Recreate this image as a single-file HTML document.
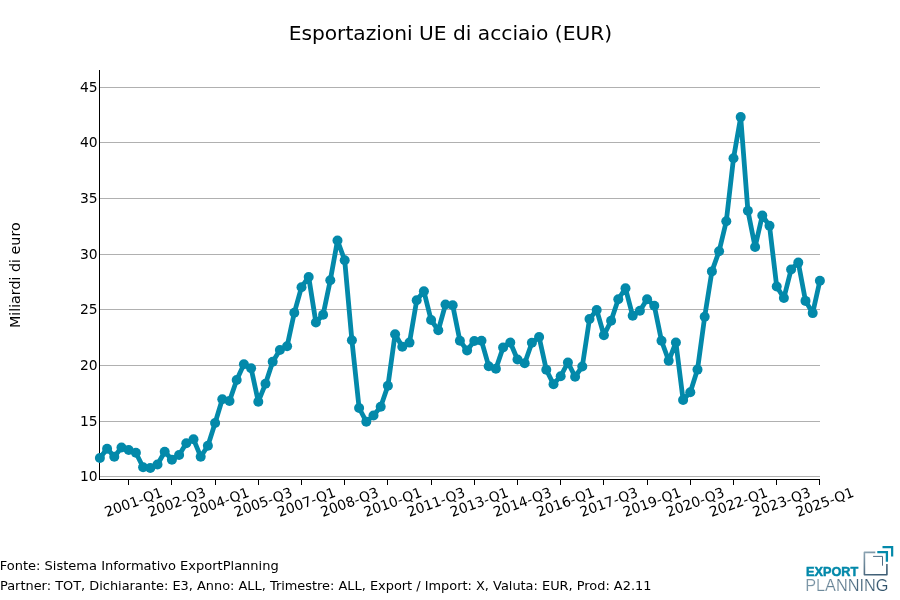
<!DOCTYPE html>
<html lang="it">
<head>
<meta charset="utf-8">
<title>Esportazioni UE di acciaio (EUR)</title>
<style>
html,body{margin:0;padding:0;background:#fff;}
body{width:900px;height:600px;overflow:hidden;}
svg{display:block;}
text{font-family:"DejaVu Sans","Liberation Sans",sans-serif;fill:#000;}
.t10{font-size:13.89px;}
.t9{font-size:12.5px;}
.logo1{font-family:"Liberation Sans",sans-serif;font-weight:bold;fill:#0389aa;}
.logo2{font-family:"Liberation Sans",sans-serif;}
</style>
</head>
<body>
<svg width="900" height="600" viewBox="0 0 900 600">
<rect width="900" height="600" fill="#fff"/>
<text x="450.4" y="39.6" text-anchor="middle" style="font-size:20.2px">Esportazioni UE di acciaio (EUR)</text>
<g stroke="#b0b0b0" stroke-width="1.1" shape-rendering="crispEdges"><line x1="100" x2="820" y1="476.5" y2="476.5"/><line x1="100" x2="820" y1="421.5" y2="421.5"/><line x1="100" x2="820" y1="365.5" y2="365.5"/><line x1="100" x2="820" y1="309.5" y2="309.5"/><line x1="100" x2="820" y1="254.5" y2="254.5"/><line x1="100" x2="820" y1="198.5" y2="198.5"/><line x1="100" x2="820" y1="142.5" y2="142.5"/><line x1="100" x2="820" y1="87.5" y2="87.5"/></g>
<g class="t10"><text x="97.7" y="481.3" text-anchor="end">10</text><text x="97.7" y="426.3" text-anchor="end">15</text><text x="97.7" y="370.3" text-anchor="end">20</text><text x="97.7" y="314.3" text-anchor="end">25</text><text x="97.7" y="259.3" text-anchor="end">30</text><text x="97.7" y="203.3" text-anchor="end">35</text><text x="97.7" y="147.3" text-anchor="end">40</text><text x="97.7" y="92.3" text-anchor="end">45</text></g>
<g stroke="#000" stroke-width="1" shape-rendering="crispEdges">
<line x1="99.5" x2="99.5" y1="70" y2="480"/>
<line x1="99" x2="820" y1="479.5" y2="479.5"/>
<line x1="128.5" x2="128.5" y1="479.5" y2="484.5"/><line x1="171.5" x2="171.5" y1="479.5" y2="484.5"/><line x1="215.5" x2="215.5" y1="479.5" y2="484.5"/><line x1="258.5" x2="258.5" y1="479.5" y2="484.5"/><line x1="301.5" x2="301.5" y1="479.5" y2="484.5"/><line x1="344.5" x2="344.5" y1="479.5" y2="484.5"/><line x1="387.5" x2="387.5" y1="479.5" y2="484.5"/><line x1="431.5" x2="431.5" y1="479.5" y2="484.5"/><line x1="474.5" x2="474.5" y1="479.5" y2="484.5"/><line x1="517.5" x2="517.5" y1="479.5" y2="484.5"/><line x1="560.5" x2="560.5" y1="479.5" y2="484.5"/><line x1="603.5" x2="603.5" y1="479.5" y2="484.5"/><line x1="647.5" x2="647.5" y1="479.5" y2="484.5"/><line x1="690.5" x2="690.5" y1="479.5" y2="484.5"/><line x1="733.5" x2="733.5" y1="479.5" y2="484.5"/><line x1="776.5" x2="776.5" y1="479.5" y2="484.5"/><line x1="819.5" x2="819.5" y1="479.5" y2="484.5"/>
</g>
<g class="t10"><text transform="translate(135.2,506.7) rotate(-20)" text-anchor="middle">2001-Q1</text><text transform="translate(178.4,506.7) rotate(-20)" text-anchor="middle">2002-Q3</text><text transform="translate(221.6,506.7) rotate(-20)" text-anchor="middle">2004-Q1</text><text transform="translate(264.8,506.7) rotate(-20)" text-anchor="middle">2005-Q3</text><text transform="translate(308.0,506.7) rotate(-20)" text-anchor="middle">2007-Q1</text><text transform="translate(351.2,506.7) rotate(-20)" text-anchor="middle">2008-Q3</text><text transform="translate(394.4,506.7) rotate(-20)" text-anchor="middle">2010-Q1</text><text transform="translate(437.6,506.7) rotate(-20)" text-anchor="middle">2011-Q3</text><text transform="translate(480.8,506.7) rotate(-20)" text-anchor="middle">2013-Q1</text><text transform="translate(524.0,506.7) rotate(-20)" text-anchor="middle">2014-Q3</text><text transform="translate(567.2,506.7) rotate(-20)" text-anchor="middle">2016-Q1</text><text transform="translate(610.4,506.7) rotate(-20)" text-anchor="middle">2017-Q3</text><text transform="translate(653.6,506.7) rotate(-20)" text-anchor="middle">2019-Q1</text><text transform="translate(696.8,506.7) rotate(-20)" text-anchor="middle">2020-Q3</text><text transform="translate(740.0,506.7) rotate(-20)" text-anchor="middle">2022-Q1</text><text transform="translate(783.2,506.7) rotate(-20)" text-anchor="middle">2023-Q3</text><text transform="translate(826.4,506.7) rotate(-20)" text-anchor="middle">2025-Q1</text></g>
<text transform="translate(19.8,275.2) rotate(-90)" text-anchor="middle" style="font-size:14.27px">Miliardi di euro</text>
<polyline points="99.9,458.0 107.1,448.7 114.3,456.7 121.5,447.5 128.7,450.0 135.9,452.8 143.1,467.2 150.3,468.0 157.5,464.5 164.7,451.7 171.9,459.7 179.1,455.0 186.3,443.3 193.5,439.2 200.7,456.7 207.9,445.8 215.1,423.0 222.3,399.2 229.5,401.0 236.7,380.0 243.9,364.2 251.1,368.3 258.3,401.7 265.5,383.8 272.7,361.7 279.9,350.0 287.1,346.3 294.3,312.8 301.5,287.2 308.7,277.0 315.9,322.5 323.1,314.7 330.3,280.3 337.5,240.5 344.7,260.3 351.9,340.3 359.1,408.0 366.3,421.7 373.5,415.5 380.7,406.7 387.9,385.8 395.1,334.2 402.3,346.7 409.5,342.6 416.7,300.3 423.9,291.3 431.1,320.0 438.3,330.3 445.5,304.5 452.7,305.3 459.9,340.8 467.1,350.4 474.3,341.0 481.5,340.8 488.7,366.2 495.9,368.7 503.1,347.5 510.3,342.5 517.5,359.5 524.7,363.3 531.9,342.8 539.1,337.0 546.3,369.7 553.5,384.2 560.7,376.2 567.9,362.5 575.1,376.7 582.3,366.5 589.5,319.0 596.7,310.0 603.9,335.2 611.1,320.8 618.3,299.2 625.5,288.3 632.7,315.8 639.9,310.8 647.1,299.2 654.3,305.8 661.5,340.8 668.7,360.8 675.9,342.5 683.1,400.0 690.3,392.2 697.5,369.6 704.7,316.7 711.9,271.4 719.1,251.2 726.3,221.3 733.5,158.3 740.7,117.1 747.9,210.8 755.1,247.0 762.3,215.5 769.5,225.8 776.7,286.5 783.9,298.0 791.1,269.5 798.3,262.6 805.5,300.9 812.7,313.1 819.9,280.7" fill="none" stroke="#0389aa" stroke-width="4.8" stroke-linejoin="round" stroke-linecap="round"/>
<g fill="#0389aa"><circle cx="99.9" cy="458.0" r="5"/><circle cx="107.1" cy="448.7" r="5"/><circle cx="114.3" cy="456.7" r="5"/><circle cx="121.5" cy="447.5" r="5"/><circle cx="128.7" cy="450.0" r="5"/><circle cx="135.9" cy="452.8" r="5"/><circle cx="143.1" cy="467.2" r="5"/><circle cx="150.3" cy="468.0" r="5"/><circle cx="157.5" cy="464.5" r="5"/><circle cx="164.7" cy="451.7" r="5"/><circle cx="171.9" cy="459.7" r="5"/><circle cx="179.1" cy="455.0" r="5"/><circle cx="186.3" cy="443.3" r="5"/><circle cx="193.5" cy="439.2" r="5"/><circle cx="200.7" cy="456.7" r="5"/><circle cx="207.9" cy="445.8" r="5"/><circle cx="215.1" cy="423.0" r="5"/><circle cx="222.3" cy="399.2" r="5"/><circle cx="229.5" cy="401.0" r="5"/><circle cx="236.7" cy="380.0" r="5"/><circle cx="243.9" cy="364.2" r="5"/><circle cx="251.1" cy="368.3" r="5"/><circle cx="258.3" cy="401.7" r="5"/><circle cx="265.5" cy="383.8" r="5"/><circle cx="272.7" cy="361.7" r="5"/><circle cx="279.9" cy="350.0" r="5"/><circle cx="287.1" cy="346.3" r="5"/><circle cx="294.3" cy="312.8" r="5"/><circle cx="301.5" cy="287.2" r="5"/><circle cx="308.7" cy="277.0" r="5"/><circle cx="315.9" cy="322.5" r="5"/><circle cx="323.1" cy="314.7" r="5"/><circle cx="330.3" cy="280.3" r="5"/><circle cx="337.5" cy="240.5" r="5"/><circle cx="344.7" cy="260.3" r="5"/><circle cx="351.9" cy="340.3" r="5"/><circle cx="359.1" cy="408.0" r="5"/><circle cx="366.3" cy="421.7" r="5"/><circle cx="373.5" cy="415.5" r="5"/><circle cx="380.7" cy="406.7" r="5"/><circle cx="387.9" cy="385.8" r="5"/><circle cx="395.1" cy="334.2" r="5"/><circle cx="402.3" cy="346.7" r="5"/><circle cx="409.5" cy="342.6" r="5"/><circle cx="416.7" cy="300.3" r="5"/><circle cx="423.9" cy="291.3" r="5"/><circle cx="431.1" cy="320.0" r="5"/><circle cx="438.3" cy="330.3" r="5"/><circle cx="445.5" cy="304.5" r="5"/><circle cx="452.7" cy="305.3" r="5"/><circle cx="459.9" cy="340.8" r="5"/><circle cx="467.1" cy="350.4" r="5"/><circle cx="474.3" cy="341.0" r="5"/><circle cx="481.5" cy="340.8" r="5"/><circle cx="488.7" cy="366.2" r="5"/><circle cx="495.9" cy="368.7" r="5"/><circle cx="503.1" cy="347.5" r="5"/><circle cx="510.3" cy="342.5" r="5"/><circle cx="517.5" cy="359.5" r="5"/><circle cx="524.7" cy="363.3" r="5"/><circle cx="531.9" cy="342.8" r="5"/><circle cx="539.1" cy="337.0" r="5"/><circle cx="546.3" cy="369.7" r="5"/><circle cx="553.5" cy="384.2" r="5"/><circle cx="560.7" cy="376.2" r="5"/><circle cx="567.9" cy="362.5" r="5"/><circle cx="575.1" cy="376.7" r="5"/><circle cx="582.3" cy="366.5" r="5"/><circle cx="589.5" cy="319.0" r="5"/><circle cx="596.7" cy="310.0" r="5"/><circle cx="603.9" cy="335.2" r="5"/><circle cx="611.1" cy="320.8" r="5"/><circle cx="618.3" cy="299.2" r="5"/><circle cx="625.5" cy="288.3" r="5"/><circle cx="632.7" cy="315.8" r="5"/><circle cx="639.9" cy="310.8" r="5"/><circle cx="647.1" cy="299.2" r="5"/><circle cx="654.3" cy="305.8" r="5"/><circle cx="661.5" cy="340.8" r="5"/><circle cx="668.7" cy="360.8" r="5"/><circle cx="675.9" cy="342.5" r="5"/><circle cx="683.1" cy="400.0" r="5"/><circle cx="690.3" cy="392.2" r="5"/><circle cx="697.5" cy="369.6" r="5"/><circle cx="704.7" cy="316.7" r="5"/><circle cx="711.9" cy="271.4" r="5"/><circle cx="719.1" cy="251.2" r="5"/><circle cx="726.3" cy="221.3" r="5"/><circle cx="733.5" cy="158.3" r="5"/><circle cx="740.7" cy="117.1" r="5"/><circle cx="747.9" cy="210.8" r="5"/><circle cx="755.1" cy="247.0" r="5"/><circle cx="762.3" cy="215.5" r="5"/><circle cx="769.5" cy="225.8" r="5"/><circle cx="776.7" cy="286.5" r="5"/><circle cx="783.9" cy="298.0" r="5"/><circle cx="791.1" cy="269.5" r="5"/><circle cx="798.3" cy="262.6" r="5"/><circle cx="805.5" cy="300.9" r="5"/><circle cx="812.7" cy="313.1" r="5"/><circle cx="819.9" cy="280.7" r="5"/></g>
<text x="-0.3" y="569.8" style="font-size:13.03px">Fonte: Sistema Informativo ExportPlanning</text>
<text x="0" y="589.8" style="font-size:12.92px">Partner: TOT, Dichiarante: E3, Anno: ALL, Trimestre: ALL, Export / Import: X, Valuta: EUR, Prod: A2.11</text>
<defs>
<linearGradient id="gp" x1="0" x2="1" y1="0" y2="0"><stop offset="0" stop-color="#7f99a9"/><stop offset="1" stop-color="#2c4e67"/></linearGradient>
<linearGradient id="gs" x1="0" x2="0.5" y1="0" y2="1"><stop offset="0" stop-color="#8ba3b2"/><stop offset="1" stop-color="#3f5e75"/></linearGradient>
</defs>
<g id="logo">
<text class="logo1" x="806.0" y="575.6" style="font-size:13.4px;stroke:#0389aa;stroke-width:0.5px" textLength="52.2" lengthAdjust="spacingAndGlyphs">EXPORT</text>
<text class="logo2" x="805.2" y="591" textLength="83.2" lengthAdjust="spacingAndGlyphs" style="font-size:15.6px;fill:url(#gp);stroke:#fff;stroke-width:0.2px">PLANNING</text>
<path d="M875.3 552.4H864.4V574.8H886.9V564" stroke="url(#gs)" stroke-width="1.6" stroke-linejoin="round" fill="none"/>
<path d="M873.1 556.4H882.5V565.7" stroke="#3a5a75" stroke-width="0.9" fill="none"/>
<path d="M877.3 552.15H886.9V561.7" stroke="#0389aa" stroke-width="2.3" fill="none"/>
<path d="M882.5 547.2H892.15V556.5" stroke="#0389aa" stroke-width="2.2" fill="none"/>
</g>
</svg>
</body>
</html>
